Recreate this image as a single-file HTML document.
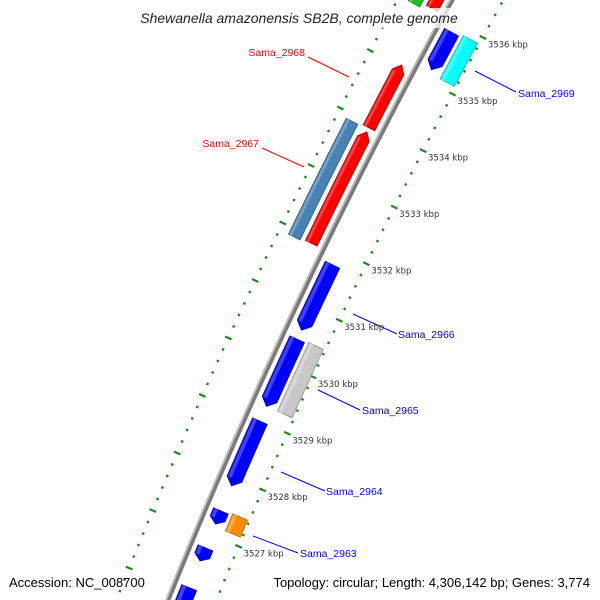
<!DOCTYPE html>
<html><head><meta charset="utf-8"><style>
html,body{margin:0;padding:0;background:#fff;width:600px;height:600px;overflow:hidden;}
svg{display:block;font-family:"Liberation Sans","DejaVu Sans",sans-serif;overflow:hidden;}
</style></head><body>
<svg id="map" width="600" height="600" viewBox="0 0 600 600" xmlns="http://www.w3.org/2000/svg">
<g id="ticks"></g>
<g id="genes"></g>
<g id="backbone"></g>
<g id="labels"></g>
<g id="kbp"></g>
<rect x="125" y="8" width="350" height="20" fill="#fff" opacity="0.75"/>
<text x="299" y="23" text-anchor="middle" font-size="14" font-style="italic" fill="#222">Shewanella amazonensis SB2B, complete genome</text>
<text x="9" y="587" font-size="13" fill="#000">Accession: NC_008700</text>
<text x="590" y="587" text-anchor="end" font-size="13" fill="#000">Topology: circular; Length: 4,306,142 bp; Genes: 3,774</text>
</svg>
<script>
// gene data (kbp)
const geneIds   = ["top-red","top-green","sama-2968","sama-2967","steel-2967","sama-2969","cyan-2969","sama-2966","sama-2965","gray-2965","sama-2964","small-blue-1","orange-2963","small-blue-2","bottom-blue"];
const geneStart = [3536.02,3535.95,3533.93,3531.91,3531.88,3535.18,3535.12,3530.60,3529.26,3529.26,3527.86,3527.19,3527.15,3526.54,3525.5];
const geneEnd   = [3537.0,3537.0,3535.03,3533.86,3533.90,3535.84,3535.88,3531.75,3530.44,3530.47,3529.00,3527.42,3527.45,3526.77,3526.07];
const geneRing  = [-1,-2,-1,-1,-2,1,2,1,1,2,1,1,2,1,1];
const geneColor = ["#ff0000","#22bb22","#ff0000","#ff0000","#4682b4","#0000ff","#00ffff","#0000ff","#0000ff","#c8c8c8","#0000ff","#0000ff","#ff8c00","#0000ff","#0000ff"];
const geneArrow = [0,0,1,1,0,-1,0,-1,-1,0,-1,-1,0,-1,-1];
// labels
const labelNames = ["Sama_2968","Sama_2967","Sama_2969","Sama_2966","Sama_2965","Sama_2964","Sama_2963"];
const labelColors = ["#ff0000","#ff0000","#0000ff","#0000ff","#0000ff","#0000ff","#0000ff"];
const labelLines = [[308,57,349,77],[262,148,304,167],[475,71,516,92],[353,314,397,334],[318,390,360,410],[281,472,325,491],[253,536,298,553]];
const labelPos = [[305,56,"end"],[259,147,"end"],[518,97,"start"],[398,338,"start"],[362,414,"start"],[326,495,"start"],[300,557,"start"]];
// tick labels
const kbpTicks = [3536,3535,3534,3533,3532,3531,3530,3529,3528,3527];

const NS="http://www.w3.org/2000/svg";
function bx(y){return 452-0.5465*y+0.000122*y*y;}
function sl(y){return -0.5465+0.000244*y;}
function kToY(k){return 73+(3535-k)*57;}
function pt(k,d){const y=kToY(k),s=sl(y),L=Math.sqrt(1+s*s);return [bx(y)+d/L,y-d*s/L];}
function mk(tag,attrs,parent){const e=document.createElementNS(NS,tag);for(const a in attrs)e.setAttribute(a,attrs[a]);parent.appendChild(e);return e;}
const ringD={"-1":[-20,-7],"-2":[-38,-25],"1":[7,23],"2":[27,43]};

// backbone
const bb=document.getElementById('backbone');
let p0=[],p1=[],p2=[];
for(let k=3525.2;k<=3537.3;k+=0.1){p0.push(pt(k,0).join(','));p1.push(pt(k,-1.6).join(','));p2.push(pt(k,1.2).join(','));}
let el=mk('polyline',{points:p0.join(' '),fill:'none',stroke:'#7a7a7a','stroke-width':5},bb);


el=mk('polyline',{points:p1.join(' '),fill:'none',stroke:'#c4c4c4','stroke-width':1.3},bb);



// ticks
const tg=document.getElementById('ticks');
[-48,45].forEach(function(d){
  for(let i=0;i<=65;i++){
    const k=3524+i*0.2;const major=Math.abs(k-Math.round(k))<0.01;
    const h=major?3.5:1.2;
    const a=pt(k,d-h),b=pt(k,d+h);
    const t=mk('line',{x1:a[0],y1:a[1],x2:b[0],y2:b[1],stroke:'#1a8a1a','stroke-width':major?2.2:2.4},tg);
    
    
  }
});

// genes
const gg=document.getElementById('genes');
function shade(c,f){const n=parseInt(c.slice(1),16);let r=n>>16,g=(n>>8)&255,b=n&255;
  const m=v=>Math.max(0,Math.min(255,Math.round(f>0?v+(255-v)*f:v*(1+f))));return 'rgb('+m(r)+','+m(g)+','+m(b)+')';}
geneIds.forEach(function(id,i){
  const r=ringD[geneRing[i]];const d1=r[0],d2=r[1],dm=(d1+d2)/2;
  let s=geneStart[i],e=geneEnd[i];const ah=Math.min(0.12,(e-s)*0.4);
  let bs=s,be=e;if(geneArrow[i]===1)be=e-ah;if(geneArrow[i]===-1)bs=s+ah;
  const pts=[];
  const n=Math.max(2,Math.ceil((be-bs)/0.1));
  for(let j=0;j<=n;j++){pts.push(pt(bs+(be-bs)*j/n,d1));}
  if(geneArrow[i]===1)pts.push(pt(e,dm));
  for(let j=n;j>=0;j--){pts.push(pt(bs+(be-bs)*j/n,d2));}
  if(geneArrow[i]===-1)pts.push(pt(s,dm));
  const g=mk('polygon',{points:pts.map(p=>p.join(',')).join(' '),fill:geneColor[i],stroke:shade(geneColor[i],-0.3),'stroke-width':0.8},gg);
  
  
  const hp=[];const q=d1+(d2-d1)*0.3;
  for(let j=0;j<=n;j++)hp.push(pt(bs+(be-bs)*j/n,d1+1).join(','));
  for(let j=n;j>=0;j--)hp.push(pt(bs+(be-bs)*j/n,q).join(','));
  const h=mk('polygon',{points:hp.join(' '),fill:shade(geneColor[i],0.25)},gg);
  
  
});

// gene labels
const lg=document.getElementById('labels');
labelNames.forEach(function(nm,i){
  const L=labelLines[i];
  const l=mk('line',{x1:L[0],y1:L[1],x2:L[2],y2:L[3],stroke:labelColors[i],'stroke-width':1},lg);
  
  
  const t=mk('text',{x:labelPos[i][0],y:labelPos[i][1],'text-anchor':labelPos[i][2],'font-size':10.5,fill:labelColors[i]},lg);
  t.textContent=nm;
  
  
});

// kbp labels
const kg=document.getElementById('kbp');
kbpTicks.forEach(function(k){
  const p=pt(k,45);
  const t=mk('text',{x:p[0]+5,y:p[1]+10,'font-size':8.5,fill:'#333','font-family':'"DejaVu Sans",sans-serif'},kg);
  t.textContent=k+' kbp';
  
  
});
</script>
</body></html>
